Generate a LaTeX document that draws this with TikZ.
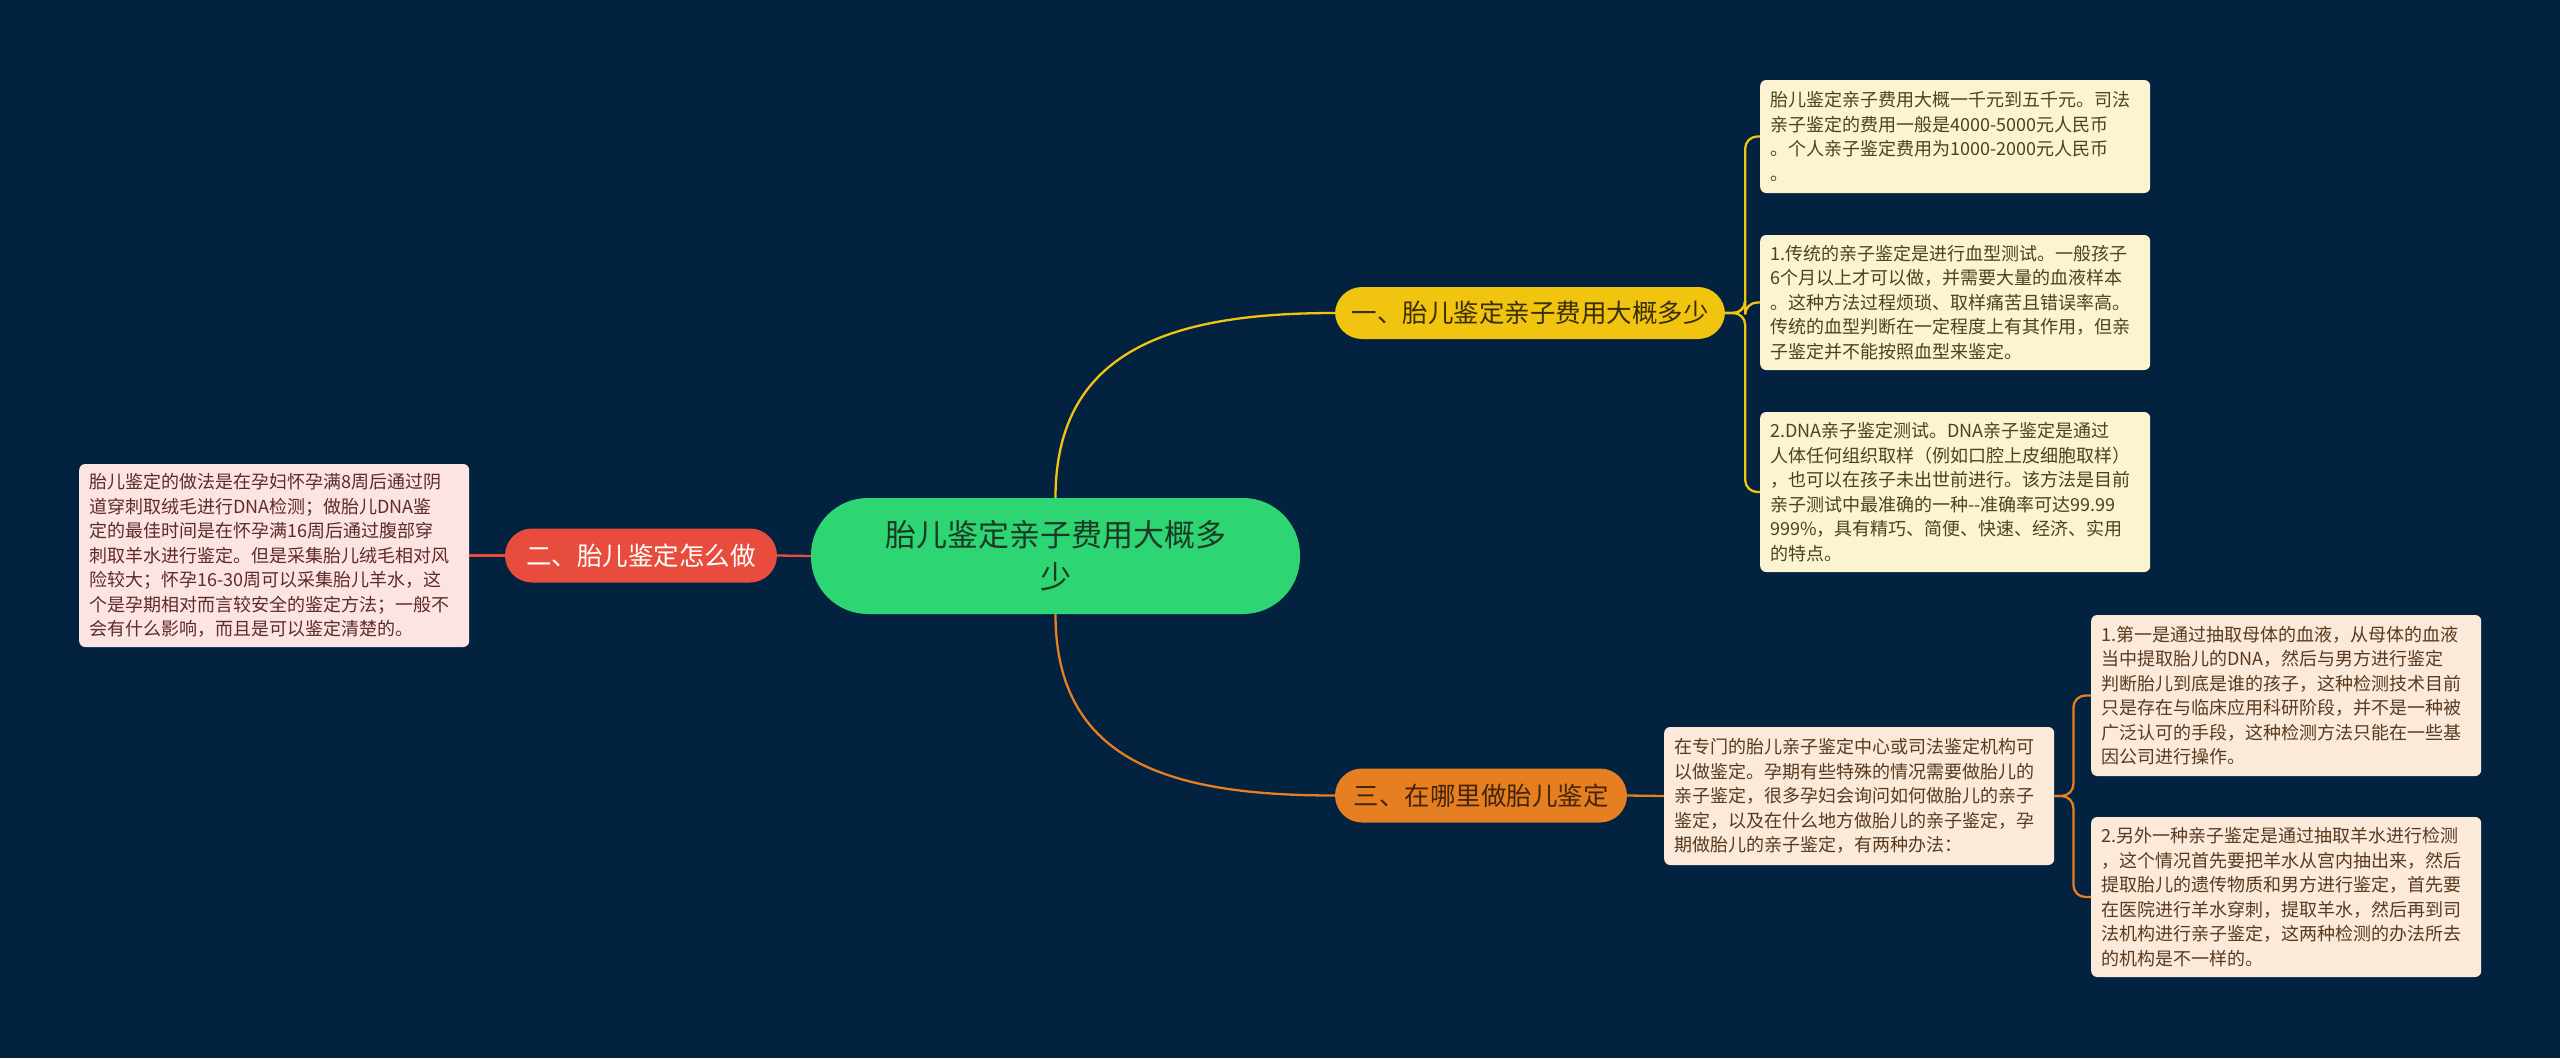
\documentclass[tikz,border=0pt]{standalone}
\usepackage{fontspec}
\setmainfont{Noto Sans CJK SC}
\definecolor{bg}{HTML}{03223F}
\definecolor{cgreen}{HTML}{2ED573}
\definecolor{cyel}{HTML}{F1C40F}
\definecolor{cred}{HTML}{E74C3C}
\definecolor{corg}{HTML}{E67E22}
\definecolor{lyel}{HTML}{FCF4D0}
\definecolor{lorg}{HTML}{FBE9D9}
\definecolor{lred}{HTML}{FCE4E2}
\definecolor{tyel}{HTML}{4A4220}
\definecolor{torg}{HTML}{5A3A1E}
\definecolor{tred}{HTML}{5E2A2A}
\definecolor{tbyel}{HTML}{3A2E08}
\definecolor{tborg}{HTML}{45250A}
\definecolor{troot}{HTML}{1B3A26}
\begin{document}
\begin{tikzpicture}[x=1pt,y=-1pt,
  rootbox/.style={fill=cgreen,text=troot,rounded corners=57pt,minimum width=489pt,minimum height=116pt,align=center,font=\fontsize{31}{42}\selectfont,inner sep=0pt},
  branchbox/.style={rounded corners=27pt,minimum height=54pt,inner xsep=0pt,font=\fontsize{25.5}{30}\selectfont},
  leafbox/.style={rounded corners=6pt,anchor=west,text width=370pt,inner xsep=10pt,inner ysep=6pt,align=left,font=\fontsize{18}{24.5}\selectfont},
  yline/.style={draw=cyel,line width=2.3pt},
  rline/.style={draw=cred,line width=2.3pt},
  oline/.style={draw=corg,line width=2.3pt}]
\useasboundingbox (0,0) rectangle (2560,1058);
\fill[bg] (0,0) rectangle (2560,1058);

\node[rootbox] (c) at (1055.5,556) {胎儿鉴定亲子费用大概多\\少};

\node[branchbox,fill=cyel,text=tbyel,minimum width=390pt,minimum height=52pt] (b1) at (1530,313) {一、胎儿鉴定亲子费用大概多少};
\node[branchbox,fill=cred,text=white,minimum width=272pt] (b2) at (641,555.5) {二、胎儿鉴定怎么做};
\node[branchbox,fill=corg,text=tborg,minimum width=292pt] (b3) at (1481,795.5) {三、在哪里做胎儿鉴定};

\node[leafbox,fill=lyel,text=tyel,minimum height=113pt] (l1) at (1760,136.5) {胎儿鉴定亲子费用大概一千元到五千元。司法\\亲子鉴定的费用一般是4000-5000元人民币\\。个人亲子鉴定费用为1000-2000元人民币\\。};
\node[leafbox,fill=lyel,text=tyel,minimum height=135pt] (l2) at (1760,302.5) {1.传统的亲子鉴定是进行血型测试。一般孩子\\6个月以上才可以做，并需要大量的血液样本\\。这种方法过程烦琐、取样痛苦且错误率高。\\传统的血型判断在一定程度上有其作用，但亲\\子鉴定并不能按照血型来鉴定。};
\node[leafbox,fill=lyel,text=tyel,minimum height=160pt] (l3) at (1760,492) {2.DNA亲子鉴定测试。DNA亲子鉴定是通过\\人体任何组织取样（例如口腔上皮细胞取样）\\，也可以在孩子未出世前进行。该方法是目前\\亲子测试中最准确的一种{-}{-}准确率可达99.99\\999\%，具有精巧、简便、快速、经济、实用\\的特点。};

\node[leafbox,fill=lorg,text=torg,minimum height=138pt] (l4) at (1664,796) {在专门的胎儿亲子鉴定中心或司法鉴定机构可\\以做鉴定。孕期有些特殊的情况需要做胎儿的\\亲子鉴定，很多孕妇会询问如何做胎儿的亲子\\鉴定，以及在什么地方做胎儿的亲子鉴定，孕\\期做胎儿的亲子鉴定，有两种办法：};
\node[leafbox,fill=lorg,text=torg,minimum height=161pt] (l5) at (2091,695.5) {1.第一是通过抽取母体的血液，从母体的血液\\当中提取胎儿的DNA，然后与男方进行鉴定\\判断胎儿到底是谁的孩子，这种检测技术目前\\只是存在与临床应用科研阶段，并不是一种被\\广泛认可的手段，这种检测方法只能在一些基\\因公司进行操作。};
\node[leafbox,fill=lorg,text=torg,minimum height=160pt] (l6) at (2091,897) {2.另外一种亲子鉴定是通过抽取羊水进行检测\\，这个情况首先要把羊水从宫内抽出来，然后\\提取胎儿的遗传物质和男方进行鉴定，首先要\\在医院进行羊水穿刺，提取羊水，然后再到司\\法机构进行亲子鉴定，这两种检测的办法所去\\的机构是不一样的。};

\node[leafbox,fill=lred,text=tred,minimum height=183pt] (l7) at (79,555.5) {胎儿鉴定的做法是在孕妇怀孕满8周后通过阴\\道穿刺取绒毛进行DNA检测；做胎儿DNA鉴\\定的最佳时间是在怀孕满16周后通过腹部穿\\刺取羊水进行鉴定。但是采集胎儿绒毛相对风\\险较大；怀孕16-30周可以采集胎儿羊水，这\\个是孕期相对而言较安全的鉴定方法；一般不\\会有什么影响，而且是可以鉴定清楚的。};

% connectors
\draw[yline] (c.north) .. controls +(0,-150) and +(-160,0) .. (b1.west);
\draw[oline] (c.south) .. controls +(0,150) and +(-160,0) .. (b3.west);
\draw[rline] (c.west) -- (b2.east);
\draw[rline] (b2.west) -- (l7.east);
\foreach \l in {l1,l2,l3}{
  \draw[yline,rounded corners=12pt] (b1.east) -- ++(20,0) |- (\l.west);
}
\draw[oline] (b3.east) -- (l4.west);
\foreach \l in {l5,l6}{
  \draw[oline,rounded corners=12pt] (l4.east) -- ++(19,0) |- (\l.west);
}
\end{tikzpicture}
\end{document}
